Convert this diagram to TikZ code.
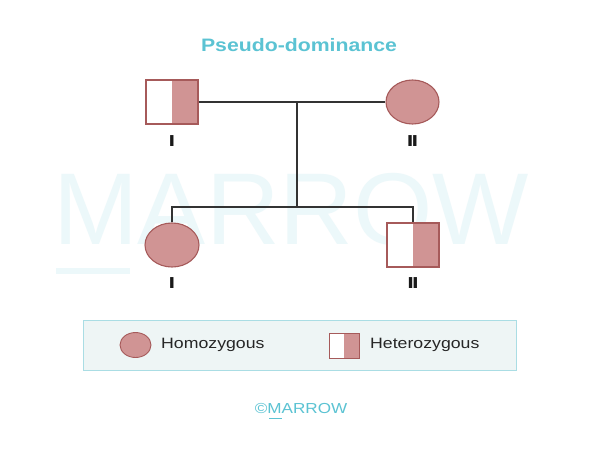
\documentclass[tikz,border=0pt]{standalone}
\usepackage{fontspec}
\setmainfont{Liberation Sans}
\newfontfamily\labelfont{DejaVu Sans}
\usetikzlibrary{shapes.geometric}
\definecolor{pinkfill}{HTML}{D09494}
\definecolor{pinkline}{HTML}{A65A5A}
\definecolor{brandcyan}{HTML}{5BC3D3}
\definecolor{markcyan}{HTML}{ECF8FA}
\definecolor{legfill}{HTML}{EEF5F5}
\definecolor{legline}{HTML}{AADDE4}
\definecolor{linkgray}{HTML}{333333}
\newcommand{\wide}[1]{\scalebox{1.18}[1]{#1}}
\tikzset{
  homo/.style={ellipse, draw=pinkline, fill=pinkfill, line width=1.1pt, inner sep=0pt},
  hetero/.style={rectangle, draw=pinkline, fill=white, line width=1.1pt, inner sep=0pt,
    path picture={\fill[pinkfill] (path picture bounding box.north) rectangle (path picture bounding box.south east);}},
  link/.style={draw=linkgray, line width=1.3pt},
  gen/.style={font=\labelfont\bfseries\fontsize{15}{17}\selectfont, text=black!90, inner sep=0pt},
  legtext/.style={font=\fontsize{15}{17}\selectfont, text=black!85, anchor=west, inner sep=0pt}
}
\begin{document}
\begin{tikzpicture}[x=1pt,y=-1pt]
\useasboundingbox (0,0) rectangle (600,451);
\fill[white] (0,0) rectangle (600,451);
% faint brand watermark
\node[text=markcyan, font=\fontsize{102}{108}\selectfont, inner sep=0pt, anchor=base] (wm) at (291,244) {MARROW};
\fill[markcyan] (56,268) rectangle (130,274);
% title
\node[text=brandcyan, font=\bfseries\fontsize{18}{20}\selectfont, inner sep=0pt] (title) at (299,45) {\wide{Pseudo-dominance}};
% parents
\node[hetero, minimum width=52pt, minimum height=44pt] (p1) at (172,102) {};
\node[homo, minimum width=53pt, minimum height=44pt] (p2) at (412.5,102) {};
\node[gen] (p1lab) at (172,141) {\wide{I}};
\node[gen] (p2lab) at (412.5,141) {\scalebox{1.18}[1]{I\kern-1.5pt I}};
% children
\node[homo, minimum width=54pt, minimum height=44pt] (c1) at (172,245) {};
\node[hetero, minimum width=52pt, minimum height=44pt] (c2) at (413,245) {};
\node[gen] (c1lab) at (172,283.5) {\wide{I}};
\node[gen] (c2lab) at (413,283.5) {\scalebox{1.18}[1]{I\kern-1.5pt I}};
% connectors
\coordinate (mate) at (297,102);
\coordinate (sib) at (297,207);
\draw[link] (p1.east) -- (p2.west);
\draw[link] (mate) -- (sib);
\draw[link] (c1.north) |- (sib) -| (c2.north);
% legend
\node[draw=legline, fill=legfill, line width=0.9pt, minimum width=433pt, minimum height=50pt, inner sep=0pt] (legend) at (299.5,345.5) {};
\node[homo, minimum width=31pt, minimum height=25pt, line width=0.9pt] (lc) at (135.5,345) {};
\node[legtext] (lct) at (161,345) {\wide{Homozygous}};
\node[hetero, minimum width=30pt, minimum height=25pt, line width=0.9pt] (ls) at (344,345.5) {};
\node[legtext] (lst) at (370,345) {\wide{Heterozygous}};
% footer
\node[text=brandcyan, font=\fontsize{14.5}{16}\selectfont, inner sep=0pt] (foot) at (301,408) {\wide{©MARROW}};
\fill[brandcyan] (269,417.5) rectangle (282,419);
\end{tikzpicture}
\end{document}
